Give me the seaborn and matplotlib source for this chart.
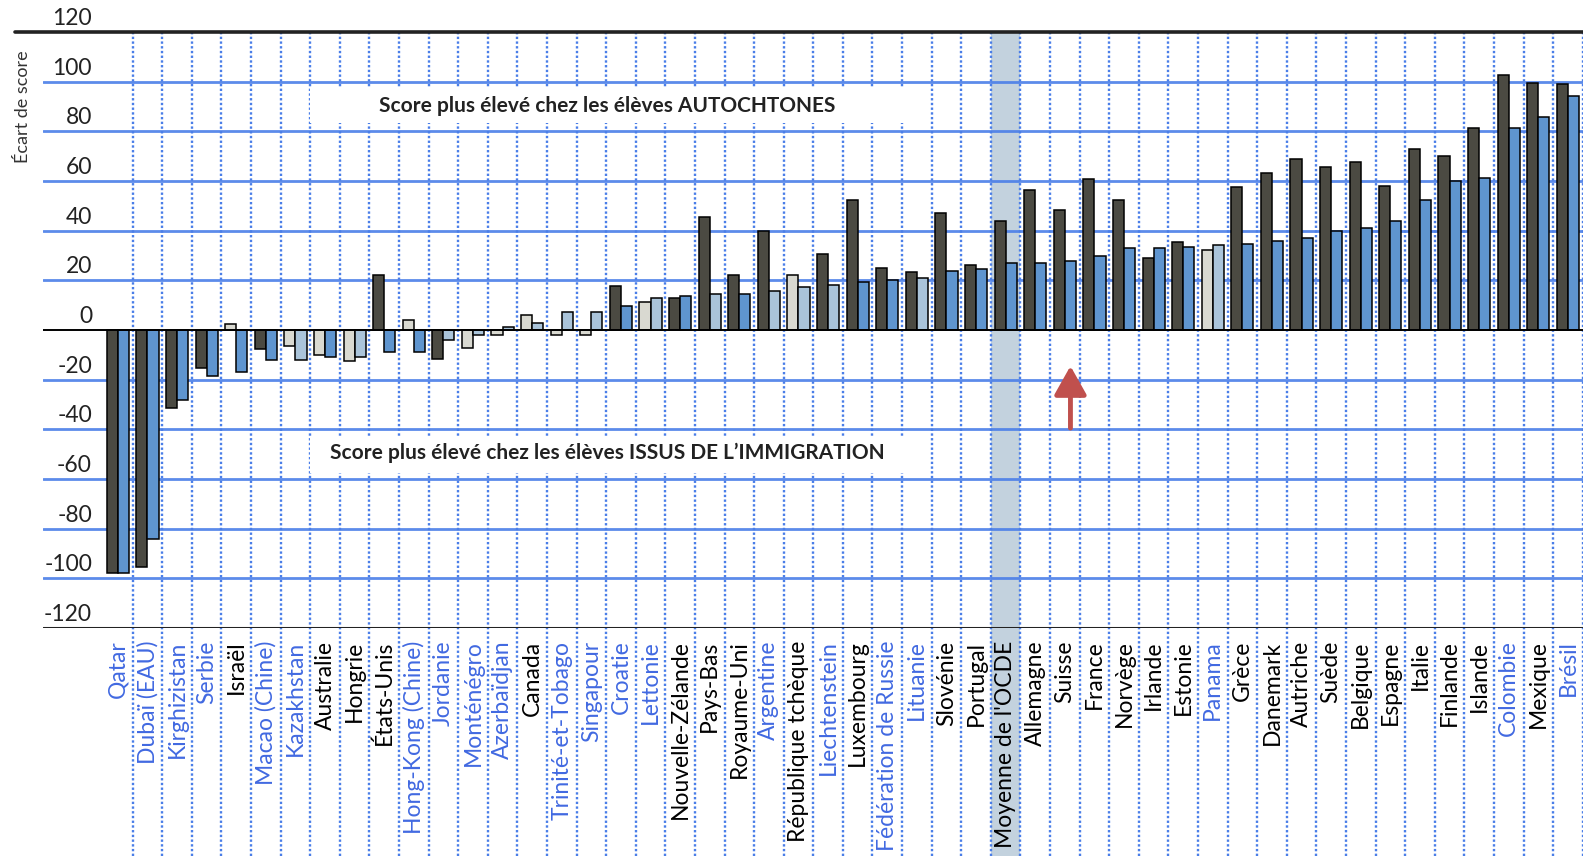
import pandas as pd
import seaborn as sns
import matplotlib.pyplot as plt
from matplotlib.patches import Rectangle

# Pays, dans l'ordre du graphique
pays = [
    "Qatar", "Dubaï (EAU)", "Kirghizistan", "Serbie", "Israël", "Macao (Chine)",
    "Kazakhstan", "Australie", "Hongrie", "États-Unis", "Hong-Kong (Chine)",
    "Jordanie", "Monténégro", "Azerbaïdjan", "Canada", "Trinité-et-Tobago",
    "Singapour", "Croatie", "Lettonie", "Nouvelle-Zélande", "Pays-Bas",
    "Royaume-Uni", "Argentine", "République tchèque", "Liechtenstein",
    "Luxembourg", "Fédération de Russie", "Lituanie", "Slovénie", "Portugal",
    "Moyenne de l'OCDE", "Allemagne", "Suisse", "France", "Norvège", "Irlande",
    "Estonie", "Panama", "Grèce", "Danemark", "Autriche", "Suède", "Belgique",
    "Espagne", "Italie", "Finlande", "Islande", "Colombie", "Mexique", "Brésil",
]

# pays partenaires (étiquettes en bleu)
partenaires = [
    "Qatar", "Dubaï (EAU)", "Kirghizistan", "Serbie", "Macao (Chine)",
    "Kazakhstan", "Hong-Kong (Chine)", "Jordanie", "Monténégro", "Azerbaïdjan",
    "Trinité-et-Tobago", "Singapour", "Croatie", "Lettonie", "Argentine",
    "Liechtenstein", "Fédération de Russie", "Lituanie", "Panama", "Colombie",
    "Brésil",
]

# écart de score (barre foncée / barre bleue)
ecart_brut = [
    -98, -95.6, -31.3, -15.5, 2.5, -7.5, -6.3, -9.9, -12.4, 22.0,
    4.1, -11.5, -7.2, -2.2, 6.2, -2.1, -2.0, 17.9, 11.2, 12.7,
    45.5, 22.3, 39.7, 22.3, 30.8, 52.5, 25.0, 23.4, 47.2, 26.1,
    43.8, 56.3, 48.2, 60.9, 52.5, 29.1, 35.4, 32.1, 57.7, 63.3,
    68.7, 65.8, 67.7, 57.9, 72.9, 69.9, 81.4, 102.5, 99.3, 98.9,
]
ecart_ajuste = [
    -98, -84.0, -28.0, -18.6, -17.0, -12.2, -12.2, -10.8, -10.8, -8.9,
    -8.9, -3.9, -2.2, 1.2, 2.9, 7.3, 7.2, 9.6, 12.9, 13.6,
    14.3, 14.3, 15.9, 17.4, 18.3, 19.3, 20.1, 21.0, 23.7, 24.6,
    26.8, 26.8, 27.7, 30.0, 33.1, 33.1, 33.5, 34.4, 34.7, 35.8,
    37.1, 39.8, 40.9, 43.8, 52.5, 60.2, 61.3, 81.4, 85.9, 94.4,
]

# 1 = différence significative (couleur pleine), 0 = non significative (couleur claire)
sig_brut = [
    1, 1, 1, 1, 0, 1, 0, 0, 0, 1,
    0, 1, 0, 0, 0, 0, 0, 1, 0, 1,
    1, 1, 1, 0, 1, 1, 1, 1, 1, 1,
    1, 1, 1, 1, 1, 1, 1, 0, 1, 1,
    1, 1, 1, 1, 1, 1, 1, 1, 1, 1,
]
sig_ajuste = [
    1, 1, 1, 1, 1, 1, 0, 1, 0, 1,
    1, 0, 0, 0, 0, 0, 0, 1, 0, 1,
    0, 1, 0, 0, 0, 1, 1, 0, 1, 1,
    1, 1, 1, 1, 1, 1, 1, 0, 1, 1,
    1, 1, 1, 1, 1, 1, 1, 1, 1, 1,
]

graduations = list(range(-120, 121, 20))

FONCE = "#4b4a42"
BLEU = "#5f95cf"
GRIS_CLAIR = "#d9d9d1"
BLEU_CLAIR = "#aac4da"
GRILLE = "#4a7ee8"
TXT_BLEU = "#4169e1"

sns.set_style("white")
plt.rcParams["font.family"] = ["Lato", "DejaVu Sans"]

df = pd.DataFrame({
    "pays": pays * 2,
    "ecart": ecart_brut + ecart_ajuste,
    "serie": ["brut"] * len(pays) + ["ajuste"] * len(pays),
})

W, H = 1583, 856
fig = plt.figure(figsize=(W / 100, H / 100), dpi=100)
ax = fig.add_axes([43 / W, 1 - 628 / H, 1540 / W, 596 / H])

sns.barplot(
    data=df, x="pays", y="ecart", hue="serie", order=pays,
    hue_order=["brut", "ajuste"], palette=[FONCE, BLEU], width=0.75,
    saturation=1, edgecolor="black", linewidth=1.1, errorbar=None,
    legend=False, zorder=3, ax=ax,
)

# couleurs claires pour les écarts non significatifs
for cont, sig, clair in zip(ax.containers, [sig_brut, sig_ajuste], [GRIS_CLAIR, BLEU_CLAIR]):
    for bar, s in zip(cont, sig):
        if not s:
            bar.set_facecolor(clair)

ax.set_xlim(-2.53, len(pays) - 0.49)
ax.set_ylim(-120, 120)
for sp in ax.spines.values():
    sp.set_visible(False)
ax.set_xlabel("")
ax.set_ylabel("")
ax.set_yticks([])
ax.set_xticks(range(len(pays)))
ax.set_xticklabels(pays, rotation=90, fontsize=16.5)
ax.tick_params(axis="x", length=0, pad=9)
for lbl, p in zip(ax.get_xticklabels(), pays):
    lbl.set_color(TXT_BLEU if p in partenaires else "black")

# grille horizontale + graduations au-dessus des lignes
bas = -(H - 628) / 596
for v in graduations:
    if v == 120:
        ax.axhline(v, xmin=-28 / 1540, xmax=1, color="#222222", lw=2.6, clip_on=False, zorder=4)
    elif v == -120:
        ax.axhline(v, color="#222222", lw=2.2, zorder=4)
    elif v == 0:
        ax.axhline(v, color="black", lw=1.4, zorder=4)
    else:
        ax.axhline(v, color=GRILLE, lw=2.0, alpha=0.9, zorder=1)
    ax.text(49 / 1540, v + 5.4, f"{v}", transform=ax.get_yaxis_transform(),
            ha="right", va="center", fontsize=16.5, color="#222222")

# colonne de la moyenne OCDE
i_ocde = pays.index("Moyenne de l'OCDE")
ax.axvspan(i_ocde - 0.5, i_ocde + 0.5, ymin=bas, ymax=1, color="#c3d2de",
           clip_on=False, zorder=0.2, lw=0)

# séparateurs pointillés entre pays
for i in range(len(pays)):
    ax.axvline(i + 0.5, ymin=bas, ymax=1, color=GRILLE, lw=1.7,
               ls=(0, (1, 1.0)), clip_on=False, zorder=1)

# encadrés de texte
ax.add_patch(Rectangle((6.5, 83.5), 20.1, 14, facecolor="white", edgecolor="none", zorder=1.5))
ax.add_patch(Rectangle((6.5, -57.5), 20.1, 15, facecolor="white", edgecolor="none", zorder=1.5))
ax.text(16.54, 90.3, "Score plus élevé chez les élèves AUTOCHTONES",
        ha="center", va="center", fontsize=15, fontweight="bold", color="#222222", zorder=5)
ax.text(16.54, -49.5, "Score plus élevé chez les élèves ISSUS DE L’IMMIGRATION",
        ha="center", va="center", fontsize=15, fontweight="bold", color="#222222", zorder=5)

# flèche sous la Suisse
xs = pays.index("Suisse") + 0.19
ax.annotate("", xy=(xs, -14.5), xytext=(xs, -39.5),
            arrowprops=dict(arrowstyle="-|>,head_length=0.8,head_width=0.45",
                            color="#c0504d", lw=3.5, mutation_scale=22,
                            shrinkA=0, shrinkB=0), zorder=6)

fig.text(23 / W, 1 - 107 / H, "Écart de score", rotation=90, ha="center",
         va="center", fontsize=13, color="#333333")

fig.savefig("out.png", dpi=100, facecolor="white")
